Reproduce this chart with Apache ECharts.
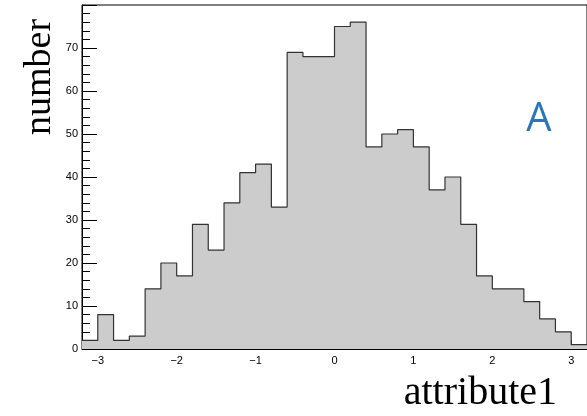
<!DOCTYPE html>
<html>
<head>
<meta charset="utf-8">
<script src="https://cdn.jsdelivr.net/npm/echarts@6/dist/echarts.min.js"></script>
<style>html,body{margin:0;padding:0;background:#fff}#c{width:587px;height:416px}</style>
</head>
<body>
<div id="c"></div>
<script>
// Histogram: 32 bins of width 0.2 from -3.2 to 3.2
var binStart = -3.2;
var binWidth = 0.2;
var counts = [2, 8, 2, 3, 14, 20, 17, 29, 23, 34, 41, 43, 33, 69, 68, 68,
              75, 76, 47, 50, 51, 47, 37, 40, 29, 17, 14, 14, 11, 7, 4, 1];
var xMajorTicks = [-3, -2, -1, 0, 1, 2, 3];
var yTicks = [0, 10, 20, 30, 40, 50, 60, 70];
var xTitle = 'attribute1';
var yTitle = 'number';
var panelLabel = 'A';

function r(v){ return Math.round(v * 1000) / 1000; }
var stepData = [];
for (var i = 0; i < counts.length; i++) stepData.push([r(binStart + i * binWidth), counts[i]]);
stepData.push([r(binStart + counts.length * binWidth), counts[counts.length - 1]]);
var xMin = binStart, xMax = r(binStart + counts.length * binWidth);
var minorX = [];
for (var k = 0; k <= counts.length; k++) {
  var v = r(binStart + k * binWidth);
  if (Math.abs(v - Math.round(v)) > 1e-6) minorX.push(v);
}

var chart = echarts.init(document.getElementById('c'));
chart.setOption({
  animation: false,
  grid: { left: 82, top: 5, right: -2, bottom: 67, show: true, borderColor: '#000', borderWidth: 1, backgroundColor: 'transparent' },
  xAxis: [{
    type: 'value', min: xMin, max: xMax,
    axisLine: { show: true, onZero: false, lineStyle: { color: '#000', width: 1 } },
    axisTick: { show: true, inside: true, length: 9, customValues: xMajorTicks, lineStyle: { color: '#000' } },
    axisLabel: { show: true, customValues: xMajorTicks, margin: 6, color: '#000', fontSize: 11, fontFamily: 'Liberation Sans, Arial, sans-serif',
      formatter: function (v) { return v < 0 ? '\u2212' + Math.abs(v) : String(v); } },
    splitLine: { show: false }
  }, {
    type: 'value', min: xMin, max: xMax, position: 'bottom',
    axisLine: { show: false, onZero: false },
    axisTick: { show: true, inside: true, length: 5, customValues: minorX, lineStyle: { color: '#000' } },
    axisLabel: { show: false },
    splitLine: { show: false }
  }],
  yAxis: {
    type: 'value', min: 0, max: 80, interval: 10, position: 'left',
    axisLine: { show: true, onZero: false, lineStyle: { color: '#000', width: 1 } },
    axisTick: { show: true, inside: true, length: 15, lineStyle: { color: '#000' } },
    minorTick: { show: true, splitNumber: 5, length: 8, lineStyle: { color: '#000' } },
    axisLabel: { margin: 4, color: '#000', fontSize: 11, fontFamily: 'Liberation Sans, Arial, sans-serif',
      formatter: function (v) { return yTicks.indexOf(v) >= 0 ? String(v) : ''; } },
    splitLine: { show: false }
  },
  series: [{
    type: 'line', xAxisIndex: 0, step: 'end', symbol: 'none', data: stepData,
    lineStyle: { color: '#333', width: 1.2 },
    areaStyle: { color: '#cccccc', opacity: 1 },
    clip: true
  }],
  graphic: [
    { type: 'text', x: 40, y: 77, rotation: Math.PI / 2,
      style: { text: yTitle, font: '38px "Liberation Serif", "Times New Roman", serif', fill: '#000', textAlign: 'center', textVerticalAlign: 'middle' } },
    { type: 'text', x: 557, y: 393,
      style: { text: xTitle, font: '40px "Liberation Serif", "Times New Roman", serif', fill: '#000', textAlign: 'right', textVerticalAlign: 'middle' } },
    { type: 'text', x: 539, y: 120,
      style: { text: panelLabel, font: '40px "Open Sans", "Noto Sans", sans-serif', fill: '#2e75b6', textAlign: 'center', textVerticalAlign: 'middle' } }
  ]
});
</script>
</body>
</html>
